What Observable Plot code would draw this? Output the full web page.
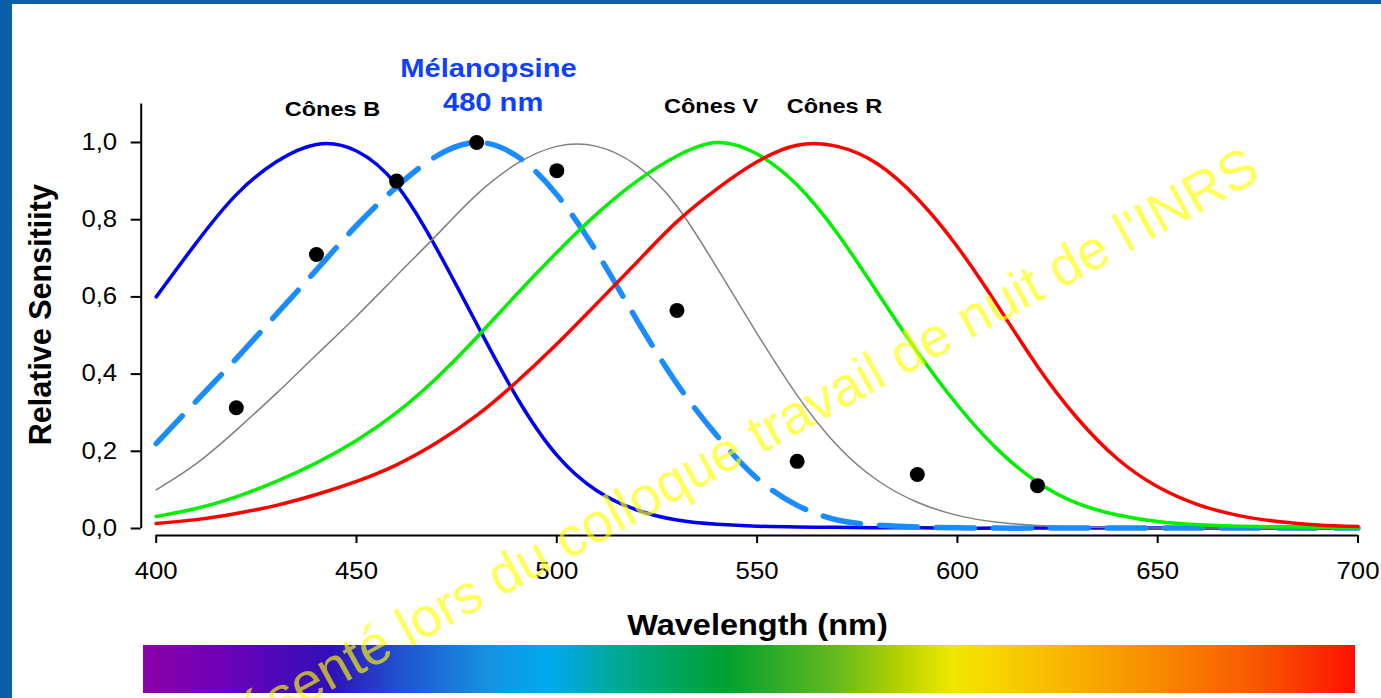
<!DOCTYPE html>
<html>
<head>
<meta charset="utf-8">
<script src="https://cdn.jsdelivr.net/npm/d3@7"></script>
<script src="https://cdn.jsdelivr.net/npm/@observablehq/plot@0.6"></script>
<style>
html, body { margin: 0; padding: 0; background: #fff; }
#wrap { position: relative; width: 1381px; height: 698px; overflow: hidden; background: #fff; }
#spec { position: absolute; left: 0; top: 645px; }
#main { position: absolute; left: 0; top: 0; }
#topbar { position: absolute; left: 0; top: 0; width: 1381px; height: 4px; background: #0a5fa6; }
#leftbar { position: absolute; left: 0; top: 0; width: 12px; height: 698px; background: #0a5fa6; }
</style>
</head>
<body>
<div id="wrap">
  <div id="spec"></div>
  <div id="main"></div>
  <div id="topbar"></div>
  <div id="leftbar"></div>
</div>
<script>
// ---------- data ----------
const wavelengths = [400,410,420,430,440,450,460,470,480,490,500,510,520,530,540,550,560,570,580,590,600,610,620,630,640,650,660,670,680,690,700];

const conesB = [0.60,0.74,0.865,0.95,0.995,0.978,0.89,0.725,0.53,0.34,0.19,0.098,0.048,0.022,0.011,0.006,0.004,0.003,0.002,0.002,0.001,0.001,0.001,0.001,0.001,0.001,0.001,0.001,0.001,0.001,0.001];
const rods = [0.10,0.168,0.255,0.35,0.45,0.55,0.655,0.76,0.865,0.945,0.99,0.99,0.94,0.835,0.675,0.505,0.345,0.215,0.125,0.068,0.034,0.016,0.008,0.004,0.002,0.001,0.001,0.001,0.0,0.0,0.0];
const conesV = [0.031,0.052,0.082,0.122,0.17,0.228,0.30,0.39,0.495,0.607,0.715,0.815,0.90,0.965,1.0,0.97,0.89,0.765,0.612,0.458,0.32,0.205,0.12,0.065,0.035,0.018,0.01,0.006,0.004,0.003,0.002];
const conesR = [0.013,0.023,0.039,0.06,0.088,0.122,0.165,0.222,0.293,0.38,0.478,0.583,0.69,0.795,0.88,0.95,0.993,0.99,0.945,0.855,0.73,0.578,0.42,0.285,0.18,0.108,0.062,0.034,0.018,0.009,0.005];
const melanopsin = [0.22,0.33,0.44,0.555,0.67,0.785,0.885,0.965,1.0,0.965,0.865,0.715,0.54,0.375,0.24,0.13,0.06,0.022,0.009,0.004,0.002,0.001,0.001,0.001,0.001,0.001,0.001,0.001,0.001,0.001,0.001];

const dotWavelengths = [420,440,460,480,500,530,560,590,620];
const dotValues = [0.313,0.71,0.90,1.0,0.927,0.565,0.174,0.14,0.111];

const xTicks = [400,450,500,550,600,650,700];
const yTicks = [0,0.2,0.4,0.6,0.8,1.0];

const coneLabels = ["Cônes B","Cônes V","Cônes R"];
const melanopsinLabel = ["Mélanopsine","480 nm"];
const xTitle = "Wavelength (nm)";
const yTitle = "Relative Sensitiity";
const watermark = "Présenté lors du colloque travail de nuit de l'INRS";

const spectrumNm = [396.8,415.8,443.7,460.5,482.7,498.4,516.1,541.9,568.6,584.8,599.0,612.2,634.0,655.7,677.7,699.4];
const spectrumColors = ["#8a00a8","#7000b8","#3010b8","#2050d0","#1890e0","#00aaee","#00a890","#00a030","#60b820","#b0d000","#f0e800","#f8d000","#f8a800","#f88000","#f85000","#ff1000"];

// ---------- tables ----------
const rows = vals => wavelengths.map((w, i) => ({wl: w, v: vals[i]}));
const dots = dotWavelengths.map((w, i) => ({wl: w, v: dotValues[i]}));

const W = 1381, H = 698;
const FONT = "'Liberation Sans', Arial, Helvetica, sans-serif";
const CURVE = "natural";

const main = Plot.plot({
  width: W, height: H,
  marginLeft: 155.7, marginRight: 23.5, marginTop: 103.4, marginBottom: 170,
  x: {domain: [400, 700]},
  y: {domain: [0, 1.1]},
  style: {background: "transparent", fontFamily: FONT, overflow: "visible", color: "#000"},
  marks: [
    Plot.ruleY([0], {dy: 7, strokeWidth: 2, stroke: "#000"}),
    Plot.ruleX([400], {dx: -15, strokeWidth: 2, stroke: "#000"}),
    Plot.axisX({ticks: xTicks, tickSize: 8, tickPadding: 19, dy: 7, fontSize: 23, strokeWidth: 2, label: null, tickFormat: d => String(d)}),
    Plot.axisY({ticks: yTicks, tickSize: 10, tickPadding: 14, dx: -15, fontSize: 23, strokeWidth: 2, label: null, tickFormat: d => d.toFixed(1).replace(".", ",")}),
    Plot.line(rows(conesB), {x: "wl", y: "v", stroke: "#0000f0", strokeWidth: 3.5, curve: CURVE}),
    Plot.line(rows(rods), {x: "wl", y: "v", stroke: "#808080", strokeWidth: 1.5, curve: CURVE}),
    Plot.line(rows(melanopsin), {x: "wl", y: "v", stroke: "#1a8cff", strokeWidth: 5.5, strokeDasharray: "38,19", curve: CURVE}),
    Plot.line(rows(conesV), {x: "wl", y: "v", stroke: "#00f000", strokeWidth: 3.5, curve: CURVE}),
    Plot.line(rows(conesR), {x: "wl", y: "v", stroke: "#ff0000", strokeWidth: 3.5, curve: CURVE}),
    Plot.dot(dots, {x: "wl", y: "v", r: 7.5, fill: "#000", stroke: null}),
    Plot.text([coneLabels[0]], {x: 444.0, y: 1.087, text: d => d, fontSize: 21, fontWeight: "bold", fill: "#000"}),
    Plot.text([coneLabels[1]], {x: 538.5, y: 1.095, text: d => d, fontSize: 21, fontWeight: "bold", fill: "#000"}),
    Plot.text([coneLabels[2]], {x: 569.3, y: 1.095, text: d => d, fontSize: 21, fontWeight: "bold", fill: "#000"}),
    Plot.text([melanopsinLabel[0]], {x: 482.95, y: 1.1925, text: d => d, fontSize: 26, fontWeight: "bold", fill: "#0f3fff"}),
    Plot.text([melanopsinLabel[1]], {x: 484.1, y: 1.102, text: d => d, fontSize: 26, fontWeight: "bold", fill: "#0f3fff"}),
    Plot.text([xTitle], {x: 550.1, y: -0.253, text: d => d, fontSize: 29, fontWeight: "bold", fill: "#000"}),
    Plot.text([yTitle], {x: 371.2, y: 0.554, text: d => d, fontSize: 30.5, fontWeight: "bold", fill: "#000", rotate: -90}),
    Plot.text([watermark], {x: 674.0, y: 0.947, text: d => d, fontSize: 55, fill: "#ffff00", fillOpacity: 0.65, rotate: -28.8, textAnchor: "end"})
  ]
});

// spectrum bar
const cells = [];
for (let a = spectrumNm[0]; a < spectrumNm[spectrumNm.length - 1]; a += 0.25) {
  cells.push({a, b: Math.min(a + 0.25, spectrumNm[spectrumNm.length - 1]), m: a + 0.125});
}
const spec = Plot.plot({
  width: W, height: 48,
  marginLeft: 155.7, marginRight: 23.5, marginTop: 0, marginBottom: 0,
  x: {domain: [400, 700], axis: null},
  color: {type: "linear", domain: spectrumNm, range: spectrumColors, interpolate: "rgb"},
  style: {background: "transparent", overflow: "visible"},
  marks: [
    Plot.rect(cells, {x1: "a", x2: "b", fill: "m", shapeRendering: "crispEdges"})
  ]
});

document.getElementById("spec").append(spec);
document.getElementById("main").append(main);

// horizontal text in the reference is slightly widened
main.querySelectorAll("text").forEach(t => {
  const tr = t.getAttribute("transform") || "";
  const ptr = (t.parentNode && t.parentNode.getAttribute && t.parentNode.getAttribute("transform")) || "";
  if (tr.includes("rotate") || ptr.includes("rotate")) return;
  const len = t.getComputedTextLength();
  if (len > 0) {
    t.setAttribute("textLength", (len * 1.12).toFixed(2));
    t.setAttribute("lengthAdjust", "spacingAndGlyphs");
  }
});
</script>
</body>
</html>
